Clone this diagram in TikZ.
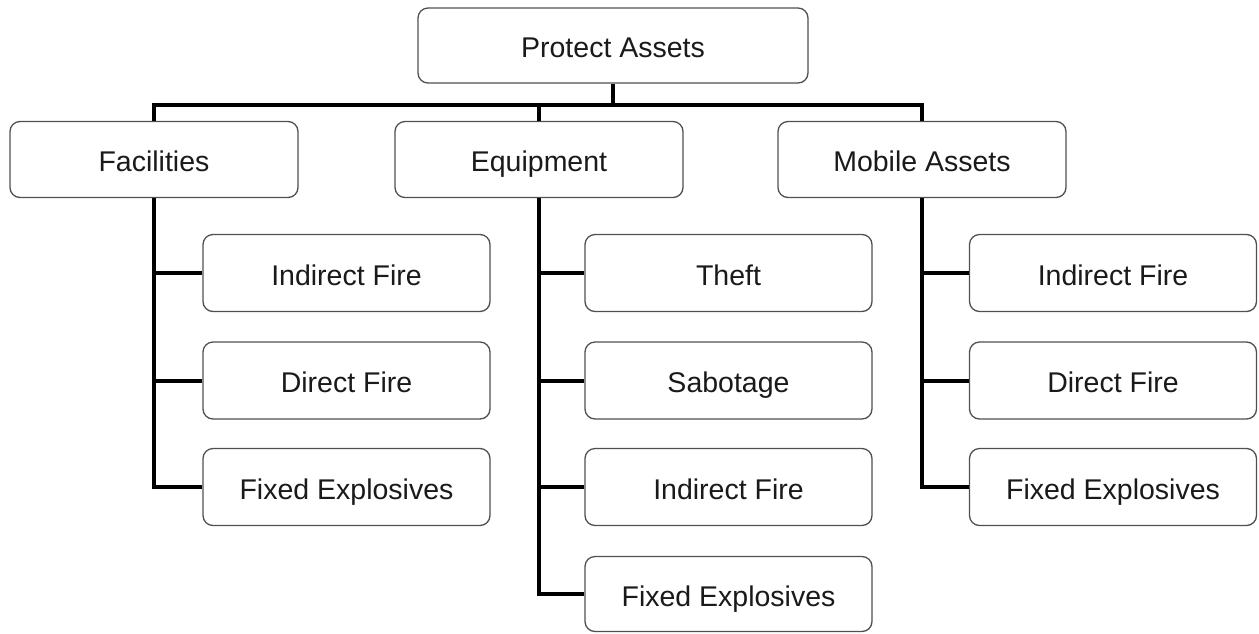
\documentclass[tikz,border=0pt]{standalone}
\usepackage{fontspec}
\setmainfont{Liberation Sans}
\definecolor{boxline}{HTML}{505050}
\definecolor{txt}{HTML}{1A1A1A}
\begin{document}
\begin{tikzpicture}[x=1pt,y=-1pt,
  box/.style={draw=boxline, line width=1.3pt, rounded corners=10pt, fill=white,
    minimum width=288pt, minimum height=76pt, inner sep=0pt, text=txt,
    text height=24pt, text depth=0pt,
    font=\fontsize{28.5}{34}\selectfont},
  topbox/.style={box, minimum width=390pt, minimum height=75pt},
  kid/.style={box, minimum width=287pt, minimum height=77pt},
  conn/.style={draw=black, line width=4pt}]
\useasboundingbox (0,0) rectangle (1259,633);
% nodes
\node[topbox] (top) at (613,45.5) {Protect Assets};
\node[box] (fac) at (154,159.5) {Facilities};
\node[box] (equ) at (539,159.5) {Equipment};
\node[box] (mob) at (922,159.5) {Mobile Assets};
\node[kid] (f1) at (346.5,273) {Indirect Fire};
\node[kid] (f2) at (346.5,380.5) {Direct Fire};
\node[kid] (f3) at (346.5,487) {Fixed Explosives};
\node[kid] (e1) at (728.5,273) {Theft};
\node[kid] (e2) at (728.5,380.5) {Sabotage};
\node[kid] (e3) at (728.5,487) {Indirect Fire};
\node[kid, minimum height=75pt] (e4) at (728.5,594) {Fixed Explosives};
\node[kid] (m1) at (1113,273) {Indirect Fire};
\node[kid] (m2) at (1113,380.5) {Direct Fire};
\node[kid] (m3) at (1113,487) {Fixed Explosives};
\coordinate (bus) at (613,105);
% connectors
\draw[conn] (top.south) -- (bus);
\draw[conn] (fac.north) |- (bus) -| (mob.north);
\draw[conn] (equ.north) -- (equ.north |- bus);
\foreach \k in {f1,f2,f3}{\draw[conn] (fac.south) |- (\k.west);}
\foreach \k in {e1,e2,e3,e4}{\draw[conn] (equ.south) |- (\k.west);}
\foreach \k in {m1,m2,m3}{\draw[conn] (mob.south) |- (\k.west);}
\end{tikzpicture}
\end{document}
